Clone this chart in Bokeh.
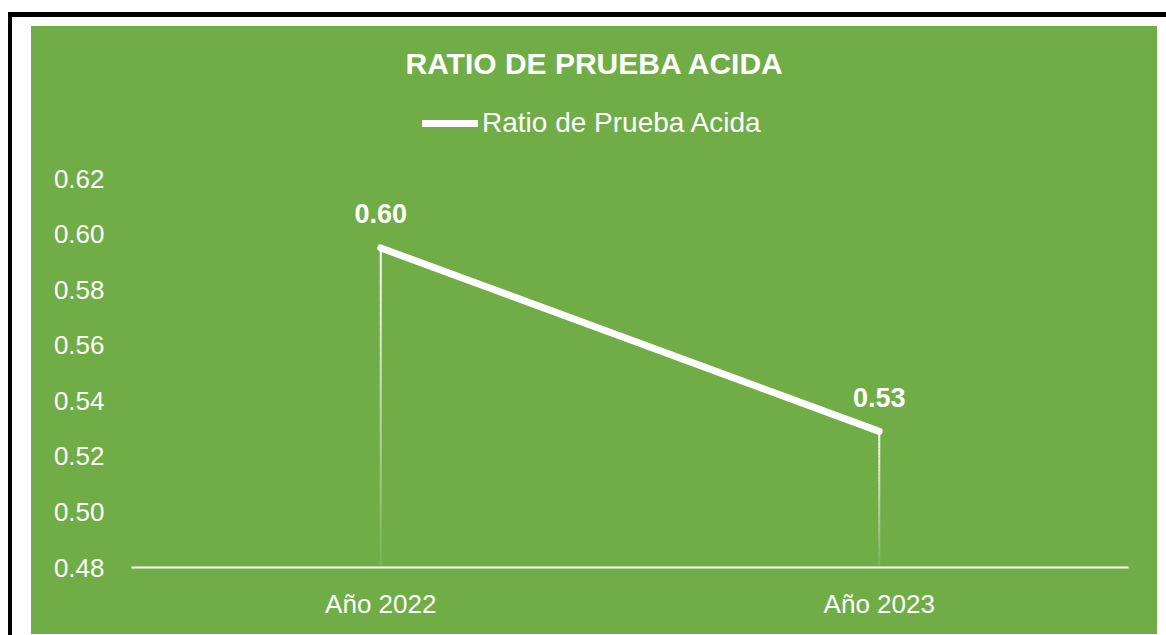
from bokeh.plotting import figure
from bokeh.models import (FactorRange, Range1d, FixedTicker, NumeralTickFormatter,
                          Legend, LegendItem, ColumnDataSource, LabelSet)
from bokeh.core.properties import value
from bokeh.embed import file_html
from bokeh.resources import INLINE

# ---- data ----
categories = ["Año 2022", "Año 2023"]
values = [0.595, 0.529]
value_labels = ["0.60", "0.53"]
y_ticks = [0.48, 0.50, 0.52, 0.54, 0.56, 0.58, 0.60, 0.62]
series_name = "Ratio de Prueba Acida"
chart_title = "RATIO DE PRUEBA ACIDA"

GREEN = "#70AD47"
FONT = "Liberation Sans"

# layout (pixels)
FIG_W, FIG_H = 1126, 608
TOP, BOTTOM, LEFT, RIGHT = 70, 67, 100, 29
TICK_SPAN_PX = 389.0          # pixel distance between lowest and highest tick
frame_h = FIG_H - TOP - BOTTOM
y_end = y_ticks[0] + frame_h * (y_ticks[-1] - y_ticks[0]) / TICK_SPAN_PX

p = figure(x_range=FactorRange(*categories, range_padding=0),
           y_range=Range1d(y_ticks[0], y_end),
           width=FIG_W, height=FIG_H, output_backend="svg", toolbar_location=None,
           min_border_left=LEFT, min_border_right=RIGHT, min_border_bottom=BOTTOM,
           min_border_top=TOP,
           background_fill_color=GREEN, border_fill_color=GREEN,
           outline_line_color=None)
p.margin = (26, 0, 0, 31)
p.styles = {"background-color": GREEN,
            "box-shadow": "-5px 5px 0px 14px white, -3px 6px 0px 20px black"}

p.title.text = chart_title
p.title.align = "left"
p.title.offset = 274
p.title.text_color = "white"
p.title.text_font = FONT
p.title.text_font_style = "bold"
p.title.text_font_size = "30px"
p.title.standoff = 33

p.xgrid.grid_line_color = None
p.ygrid.grid_line_color = None

# y axis
p.yaxis.ticker = FixedTicker(ticks=y_ticks)
p.yaxis.formatter = NumeralTickFormatter(format="0.00")
p.yaxis.axis_line_color = None
p.yaxis.major_tick_line_color = None
p.yaxis.minor_tick_line_color = None
p.yaxis.major_tick_out = 0
p.yaxis.major_tick_in = 0
p.yaxis.major_label_standoff = 27
p.yaxis.major_label_text_color = "white"
p.yaxis.major_label_text_font = FONT
p.yaxis.major_label_text_font_size = "26px"

# x axis
p.xaxis.axis_line_color = "white"
p.xaxis.axis_line_width = 2
p.xaxis.major_tick_line_color = None
p.xaxis.minor_tick_line_color = None
p.xaxis.major_tick_out = 0
p.xaxis.major_tick_in = 0
p.xaxis.major_label_standoff = 21
p.xaxis.major_label_text_color = "white"
p.xaxis.major_label_text_font = FONT
p.xaxis.major_label_text_font_size = "26px"

# drop lines with fading gradient (drawn as stacked segments)
base = y_ticks[0]
N = 40
seg = dict(x=[], y0=[], y1=[], a=[])
for c, v in zip(categories, values):
    for k in range(N):
        seg["x"].append(c)
        seg["y0"].append(v - (v - base) * k / N)
        seg["y1"].append(v - (v - base) * (k + 1) / N)
        seg["a"].append(1.0 - 0.92 * k / (N - 1))
p.segment(x0="x", y0="y0", x1="x", y1="y1", source=ColumnDataSource(seg),
          line_color="white", line_alpha="a", line_width=2)

# main line
src = ColumnDataSource(dict(x=categories, y=values, lab=value_labels))
ln = p.line("x", "y", source=src, line_color="white", line_width=7, line_cap="round")

labels = LabelSet(x="x", y="y", text="lab", source=src, y_offset=34,
                  text_align="center", text_baseline="middle",
                  text_color="white", text_font=value(FONT), text_font_style="bold",
                  text_font_size="27px")
p.add_layout(labels)

legend = Legend(items=[LegendItem(label=series_name, renderers=[ln])],
                orientation="horizontal", location=(291, 428),
                background_fill_alpha=0, border_line_alpha=0,
                label_text_color="white", label_text_font=FONT,
                label_text_font_size="28px", glyph_width=56, glyph_height=30,
                label_height=30, label_standoff=4, padding=0, margin=0)
p.add_layout(legend)

open("out.html", "w").write(file_html(p, INLINE))
